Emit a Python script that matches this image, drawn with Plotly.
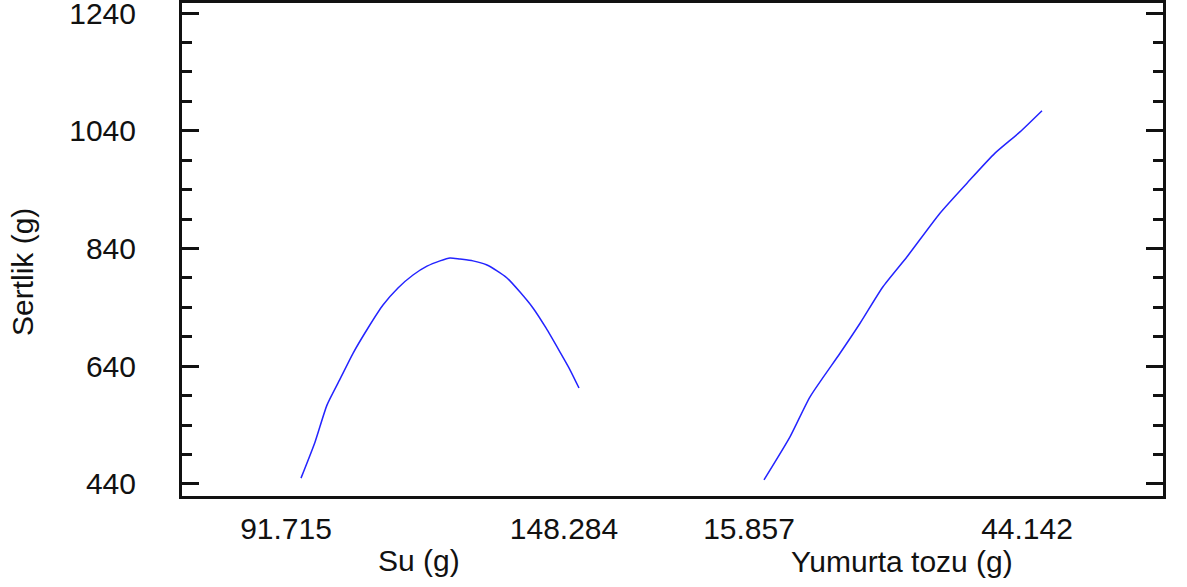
import plotly.graph_objects as go

# ---- data ----
su_x = [91.715, 94.56, 97.00, 99.65, 102.30, 105.35, 108.40, 111.45, 114.51, 117.35,
        120.00, 122.03, 124.07, 126.71, 129.56, 131.60, 133.63, 136.28, 138.92, 141.57,
        144.42, 146.45, 148.284]
su_y = [450, 511, 574, 618, 662, 705, 744, 773, 795, 810,
        819, 824, 822, 819, 812, 802, 790, 766, 739, 705,
        664, 634, 603]

yt_x = [15.857, 18.50, 20.54, 23.59, 25.63, 27.96, 30.41, 33.76, 36.51, 39.36, 41.90, 44.142]
yt_y = [447, 520, 588, 662, 713, 775, 826, 900, 951, 1002, 1038, 1074]

su_ticks = [91.715, 148.284]
su_ticktext = ["91.715", "148.284"]
yt_ticks = [15.857, 44.142]
yt_ticktext = ["15.857", "44.142"]
y_ticks = [440, 640, 840, 1040, 1240]

W, H = 1187, 587
L, R, T, B = 182, 1163, 3, 496
FONT = "Liberation Sans, Arial, sans-serif"
FS = 30

def px(xp):
    return (xp - L) / (R - L)

def py(yp):
    return (B - yp) / (B - T)

fig = go.Figure()
fig.add_trace(go.Scatter(x=su_x, y=su_y, mode="lines", xaxis="x", yaxis="y",
                         line=dict(color="#2424ff", width=1.5, shape="spline", smoothing=0.6),
                         showlegend=False, hoverinfo="skip"))
fig.add_trace(go.Scatter(x=yt_x, y=yt_y, mode="lines", xaxis="x2", yaxis="y2",
                         line=dict(color="#2424ff", width=1.5, shape="spline", smoothing=0.6),
                         showlegend=False, hoverinfo="skip"))

yrange = [419.6, 1257.0]
ycommon = dict(range=yrange, tickmode="array", tickvals=y_ticks,
               ticks="inside", ticklen=17, tickwidth=3,
               tickcolor="#111", showline=True, linewidth=3, linecolor="#111",
               showgrid=False, zeroline=False, automargin=False,
               ticklabeloverflow="allow",
               minor=dict(ticks="inside", ticklen=10, tickwidth=3, tickcolor="#111",
                          tick0=440, dtick=50, showgrid=False))

xcommon = dict(showline=True, linewidth=3, linecolor="#111", mirror=True, ticks="",
               showgrid=False, zeroline=False, tickmode="array", automargin=False,
               ticklabeloverflow="allow",
               tickfont=dict(family=FONT, size=FS, color="#111"),
               ticklabelshift=-15, ticklabelstandoff=4)

fig.update_layout(
    width=W, height=H,
    margin=dict(l=L, r=W - R, t=T, b=H - B, autoexpand=False),
    plot_bgcolor="white", paper_bgcolor="white",
    font=dict(family=FONT, size=FS, color="#111"),
    xaxis=dict(domain=[0, 0.5], range=[67.50, 167.31], anchor="y",
               tickvals=su_ticks, ticktext=su_ticktext, **xcommon),
    xaxis2=dict(domain=[0.5, 1], range=[6.547, 56.453], anchor="y2",
                tickvals=yt_ticks, ticktext=yt_ticktext, **xcommon),
    yaxis=dict(anchor="x", side="left", showticklabels=True,
               tickfont=dict(family=FONT, size=FS, color="#111"),
               ticklabelstandoff=37, **ycommon),
    yaxis2=dict(anchor="x2", side="right", overlaying="y", showticklabels=False, **ycommon),
    annotations=[
        dict(text="Su (g)", x=px(419), y=py(560), xref="paper", yref="paper",
             xanchor="center", yanchor="middle", showarrow=False,
             font=dict(family=FONT, size=FS, color="#111")),
        dict(text="Yumurta tozu (g)", x=px(902), y=py(561), xref="paper", yref="paper",
             xanchor="center", yanchor="middle", showarrow=False,
             font=dict(family=FONT, size=FS, color="#111")),
        dict(text="Sertlik (g)", x=px(22), y=py(272), xref="paper", yref="paper",
             xanchor="center", yanchor="middle", textangle=-90, showarrow=False,
             font=dict(family=FONT, size=FS, color="#111")),
    ],
)

fig.write_html("out.html", config={"displayModeBar": False},
               post_script="document.body.style.margin='0';document.body.style.padding='0';"
                           "document.documentElement.style.overflow='hidden';")
